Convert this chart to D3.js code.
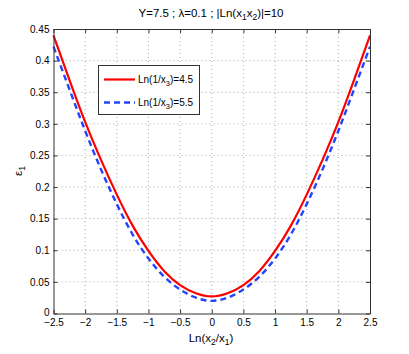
<!DOCTYPE html>
<meta charset="utf-8">
<script src="https://d3js.org/d3.v7.min.js"></script>
<body style="margin:0;background:#fff;">
<svg width="409" height="354"></svg>
<style>
text { font-family: 'Liberation Sans', Arial, sans-serif; fill: #000; }
.tick text { font-size: 10px; }
.grid line { stroke: #aaa; stroke-dasharray: 1,3; stroke-width: 1; }
</style>
<script>
// values
const xVals = [-2.5, -2.25, -2, -1.75, -1.5, -1.25, -1, -0.75, -0.5, -0.25, 0,
               0.25, 0.5, 0.75, 1, 1.25, 1.5, 1.75, 2, 2.25, 2.5];
const eps45 = [0.440, 0.370, 0.303, 0.243, 0.188, 0.139, 0.099, 0.067, 0.045, 0.032, 0.027,
               0.032, 0.045, 0.067, 0.099, 0.139, 0.188, 0.243, 0.303, 0.370, 0.440];
const eps55 = [0.422, 0.355, 0.289, 0.228, 0.173, 0.125, 0.087, 0.058, 0.038, 0.025, 0.020,
               0.025, 0.038, 0.058, 0.087, 0.125, 0.173, 0.228, 0.289, 0.355, 0.422];
const xTicks = [-2.5, -2, -1.5, -1, -0.5, 0, 0.5, 1, 1.5, 2, 2.5];
const yTicks = [0, 0.05, 0.1, 0.15, 0.2, 0.25, 0.3, 0.35, 0.4, 0.45];

const L = 53.5, R = 370, T = 29, B = 313.5;
const svg = d3.select('svg');
const x = d3.scaleLinear().domain([-2.5, 2.5]).range([L, R]);
const y = d3.scaleLinear().domain([0, 0.45]).range([B, T]);
const fmt = d => d === 0 ? '0' : String(d).replace('-', '\u2212');

// grid
const grid = svg.append('g').attr('class', 'grid');
grid.selectAll('line.gx').data(xTicks.slice(1, -1)).enter().append('line')
    .attr('x1', d => x(d)).attr('x2', d => x(d)).attr('y1', T).attr('y2', B);
grid.selectAll('line.gy').data(yTicks.slice(1, -1)).enter().append('line')
    .attr('y1', d => y(d)).attr('y2', d => y(d)).attr('x1', L).attr('x2', R);

// curves
const line = d3.line().x((d, i) => x(xVals[i])).y(d => y(d)).curve(d3.curveNatural);
svg.append('path').datum(eps55).attr('d', line)
    .attr('fill', 'none').attr('stroke', '#2244ff').attr('stroke-width', 2.4)
    .attr('stroke-dasharray', '6,4');
svg.append('path').datum(eps45).attr('d', line)
    .attr('fill', 'none').attr('stroke', '#ff0000').attr('stroke-width', 2.2);

// axes
const axColor = '#333';
const gx = svg.append('g').attr('transform', `translate(0,${B})`)
    .call(d3.axisBottom(x).tickValues(xTicks).tickFormat(fmt).tickSizeInner(-4).tickSizeOuter(0).tickPadding(6));
const gxt = svg.append('g').attr('transform', `translate(0,${T})`)
    .call(d3.axisTop(x).tickValues(xTicks).tickFormat('').tickSizeInner(-4).tickSizeOuter(0));
const gy = svg.append('g').attr('transform', `translate(${L},0)`)
    .call(d3.axisLeft(y).tickValues(yTicks).tickFormat(fmt).tickSizeInner(-4).tickSizeOuter(0).tickPadding(4));
const gyr = svg.append('g').attr('transform', `translate(${R},0)`)
    .call(d3.axisRight(y).tickValues(yTicks).tickFormat('').tickSizeInner(-4).tickSizeOuter(0));
[gx, gxt, gy, gyr].forEach(g => {
    g.selectAll('path.domain').attr('stroke', axColor);
    g.selectAll('.tick line').attr('stroke', axColor);
});
gx.selectAll('.tick text').attr('dy', '0.6em');
gy.selectAll('.tick text').filter(d => d === 0).attr('dy', '0.2em');

// title
const title = svg.append('text').attr('x', 211).attr('y', 17)
    .attr('text-anchor', 'middle').style('font-size', '11.5px');
title.append('tspan').text('Y=7.5 ; \u03bb=0.1 ; |Ln(x');
title.append('tspan').text('1').attr('dy', 3).style('font-size', '8.5px');
title.append('tspan').text('x').attr('dy', -3);
title.append('tspan').text('2').attr('dy', 3).style('font-size', '8.5px');
title.append('tspan').text(')|=10').attr('dy', -3);

// x label
const xl = svg.append('text').attr('x', 211).attr('y', 342)
    .attr('text-anchor', 'middle').style('font-size', '11.5px');
xl.append('tspan').text('Ln(x');
xl.append('tspan').text('2').attr('dy', 3).style('font-size', '8.5px');
xl.append('tspan').text('/x').attr('dy', -3);
xl.append('tspan').text('1').attr('dy', 3).style('font-size', '8.5px');
xl.append('tspan').text(')').attr('dy', -3);

// y label
const yl = svg.append('text').attr('transform', 'translate(22,171) rotate(-90)')
    .attr('text-anchor', 'middle').style('font-size', '11.5px');
yl.append('tspan').text('\u03b5');
yl.append('tspan').text('1').attr('dy', 3).style('font-size', '8.5px');

// legend
const legNames = ['4.5', '5.5'];
const leg = svg.append('g');
leg.append('rect').attr('x', 98.5).attr('y', 65.5).attr('width', 101).attr('height', 49)
    .attr('fill', '#fff').attr('stroke', axColor).attr('stroke-width', 1);
legNames.forEach((n, i) => {
    const yy = 79.5 + i * 23;
    leg.append('line').attr('x1', 104).attr('x2', 135).attr('y1', yy).attr('y2', yy)
        .attr('stroke', i === 0 ? '#ff0000' : '#2244ff').attr('stroke-width', i === 0 ? 2.2 : 2.4)
        .attr('stroke-dasharray', i === 0 ? null : '6,4');
    const t = leg.append('text').attr('x', 138).attr('y', yy + 3.5).style('font-size', '10px');
    t.append('tspan').text('Ln(1/x');
    t.append('tspan').text('3').attr('dy', 3).style('font-size', '7.5px');
    t.append('tspan').text(')=' + n).attr('dy', -3);
});
</script>
</body>
